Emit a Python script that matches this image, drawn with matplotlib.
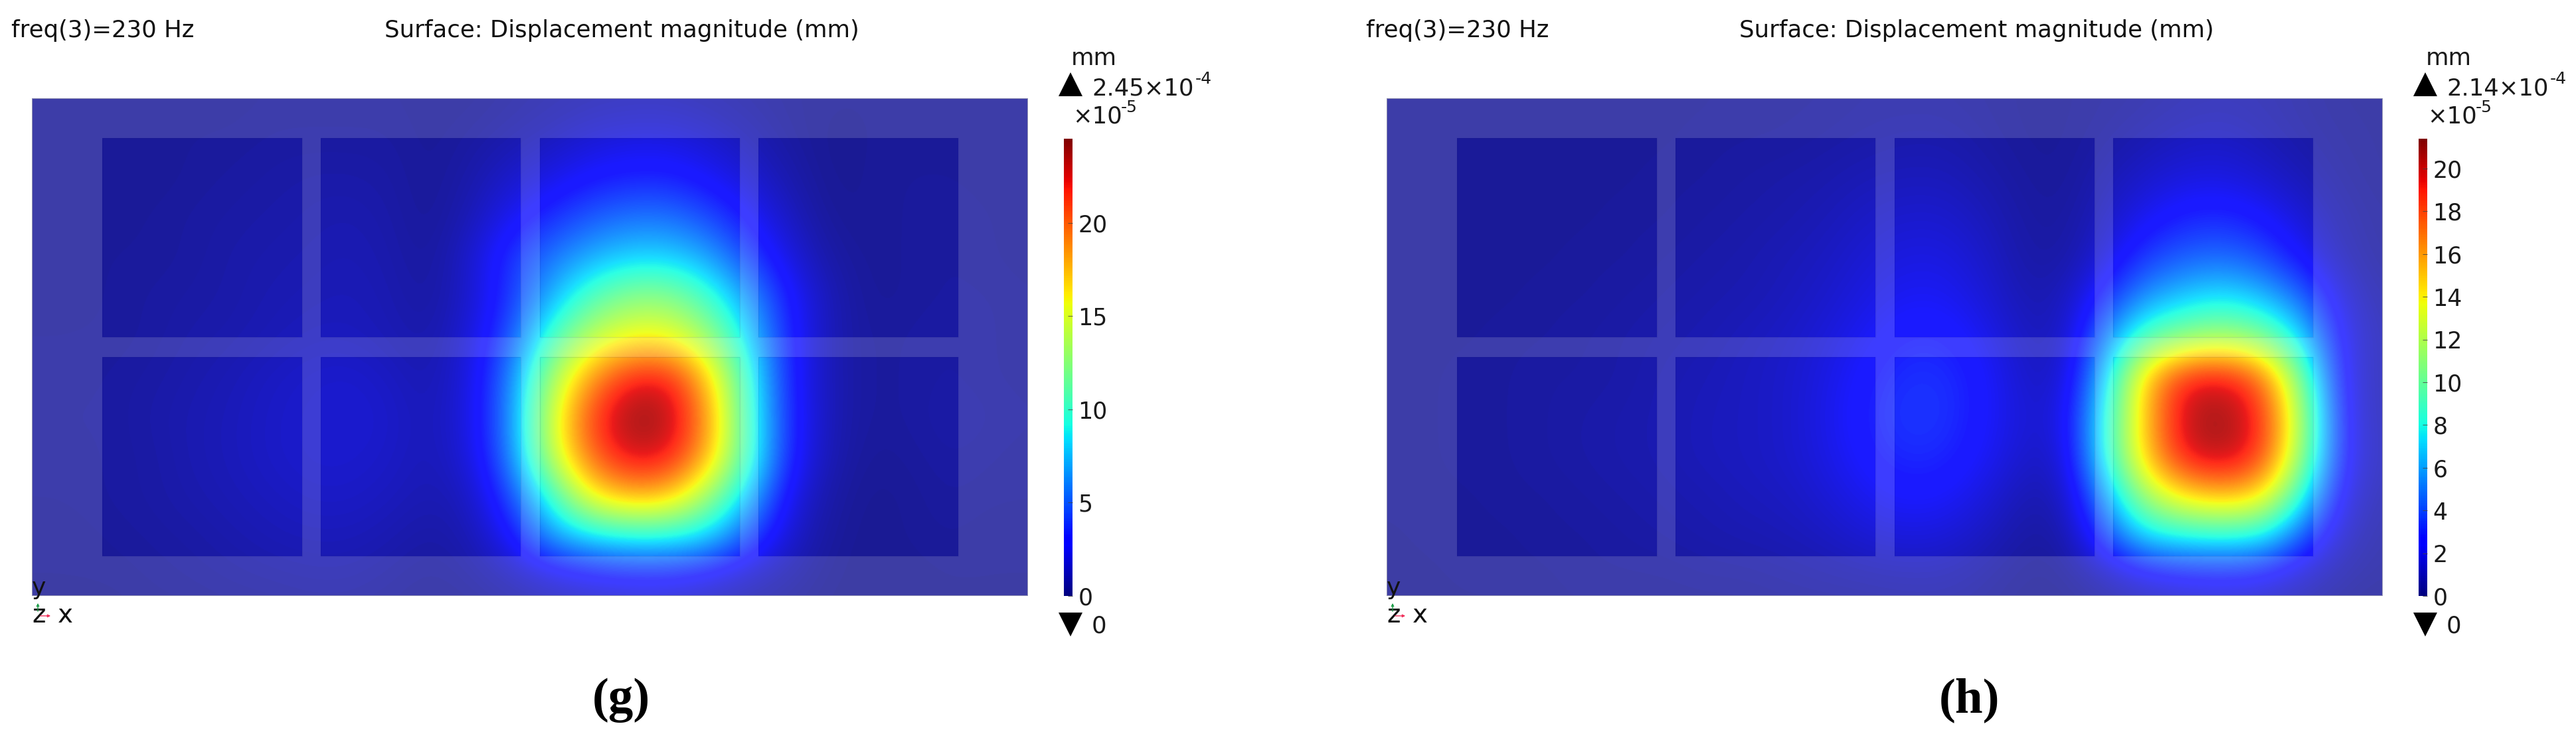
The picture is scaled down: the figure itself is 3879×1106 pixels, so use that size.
import numpy as np
import matplotlib
matplotlib.use("Agg")
import matplotlib.pyplot as plt
from matplotlib.cm import ScalarMappable
from matplotlib.colors import Normalize
from matplotlib.path import Path
from matplotlib.patches import PathPatch, Rectangle

W, H = 3880, 1106

# displacement magnitude in 1e-5 mm
# columns are x = 48, 108 ... 1548 px, rows are y = 148, 208 ... 928 px
field_g = [
    [.3, .3, .3, .3, .3, .3, .4, .4, .4, .4, .3, .3, .5, .7, .9, 1.0, 1.0, .8, .6, .4, .3, .3, .3, .3, .3, .3],
    [.3, .3, .3, .3, .4, .4, .5, .5, .5, .5, .3, .5, .8, 1.2, 1.7, 2.0, 2.0, 1.6, 1.0, .5, .2, .3, .3, .3, .3, .3],
    [.3, .3, .3, .3, .4, .5, .6, .7, .7, .6, .3, .7, 1.5, 2.1, 2.9, 3.3, 3.3, 2.6, 1.7, .8, .2, .3, .4, .4, .3, .3],
    [.3, .3, .3, .4, .5, .6, .7, .8, .9, .7, .3, 1.0, 2.4, 3.6, 4.8, 5.5, 5.5, 4.4, 2.8, 1.3, .3, .3, .4, .5, .4, .3],
    [.3, .3, .4, .4, .5, .7, .8, .9, 1.0, .8, .4, 1.5, 3.8, 5.5, 7.0, 8.0, 8.0, 6.8, 4.2, 2.0, .6, .3, .4, .5, .4, .3],
    [.3, .3, .4, .5, .6, .7, .9, 1.0, 1.1, .9, .5, 1.5, 3.8, 7.0, 10.5, 12.5, 12.5, 10, 6.5, 3, 1.0, .3, .4, .5, .5, .4],
    [.4, .4, .4, .5, .7, .8, 1.0, 1.2, 1.2, 1.0, .7, 1.8, 4.5, 10, 14, 15.7, 15.7, 13, 8, 3.2, 1.0, .4, .5, .6, .5, .4],
    [.4, .4, .5, .6, .8, 1.0, 1.3, 1.5, 1.6, 1.3, .9, 1.9, 5.6, 13, 18.5, 22, 22.3, 17, 9.5, 3.2, 1.0, .4, .5, .6, .5, .4],
    [.5, .5, .5, .7, .9, 1.1, 1.4, 1.6, 1.7, 1.5, 1.0, 2.0, 5.8, 14.5, 21, 24.3, 23.8, 18.5, 9.8, 3.4, 1.0, .4, .5, .7, .6, .5],
    [.4, .4, .5, .6, .9, 1.1, 1.4, 1.6, 1.6, 1.4, 1.0, 1.8, 5.6, 14, 20, 23, 22.5, 17.8, 10, 3.3, .9, .3, .4, .6, .5, .4],
    [.4, .4, .5, .6, .8, 1.0, 1.2, 1.4, 1.4, 1.2, .9, 1.2, 4.2, 9.5, 16, 18, 17.5, 13, 7.5, 2.3, .6, .2, .3, .5, .4, .4],
    [.3, .3, .4, .5, .6, .8, 1.0, 1.1, 1.1, .9, .6, .9, 2.6, 6.5, 8.3, 9, 9, 8, 4.5, 1.6, .4, .2, .3, .4, .3, .3],
    [.3, .3, .3, .4, .5, .6, .7, .8, .8, .6, .4, .6, 1.1, 1.8, 2.4, 2.8, 2.8, 2.2, 1.4, .8, .3, .2, .2, .3, .3, .3],
    [.2, .2, .2, .3, .3, .4, .4, .5, .5, .4, .3, .3, .5, .8, 1.0, 1.1, 1.1, .9, .6, .4, .2, .2, .2, .2, .2, .2],
]
field_h = [
    [.3, .3, .3, .3, .3, .3, .3, .3, .3, .4, .4, .4, .5, .5, .5, .4, .3, .3, .4, .5, .7, .8, .7, .5, .3, .3],
    [.3, .3, .3, .3, .3, .3, .3, .3, .4, .4, .4, .5, .6, .7, .7, .5, .3, .3, .5, .8, 1.1, 1.2, .9, .6, .4, .3],
    [.3, .3, .3, .3, .3, .3, .3, .4, .4, .5, .6, .7, .9, 1.0, 1.0, .7, .4, .3, .8, 1.3, 1.7, 1.8, 1.4, .9, .5, .3],
    [.3, .3, .3, .3, .3, .3, .4, .4, .5, .6, .7, .9, 1.2, 1.4, 1.4, 1.0, .5, .4, 1.1, 2.1, 2.9, 3.1, 2.5, 1.5, .7, .4],
    [.3, .3, .3, .3, .3, .4, .4, .5, .6, .7, .9, 1.1, 1.5, 1.8, 1.8, 1.3, .6, .5, 1.6, 3.4, 4.3, 4.6, 3.9, 2.3, .9, .4],
    [.3, .3, .3, .3, .4, .4, .5, .6, .7, .8, 1.0, 1.3, 1.8, 2.2, 2.2, 1.6, .8, .9, 3.0, 5.5, 6.8, 7.5, 6.5, 4.5, 1.6, .6],
    [.3, .3, .3, .4, .4, .5, .6, .7, .8, 1.0, 1.2, 1.6, 2.2, 2.8, 2.8, 2.1, 1.1, 1.0, 5.0, 9.2, 10.7, 11.5, 10.5, 7, 2.0, .8],
    [.3, .3, .4, .4, .5, .5, .6, .8, .9, 1.1, 1.3, 1.8, 2.6, 3.2, 3.2, 2.5, 1.3, 1.2, 6.5, 15, 19.3, 19.8, 17.5, 10, 2, .8],
    [.3, .3, .4, .4, .5, .6, .7, .8, 1.0, 1.1, 1.3, 1.9, 2.8, 3.4, 3.3, 2.5, 1.5, 1.6, 7.7, 15, 20.3, 21.2, 19, 11.5, 2.2, .8],
    [.3, .3, .4, .4, .5, .6, .7, .8, 1.0, 1.1, 1.3, 1.8, 2.6, 3.1, 3.0, 2.3, 1.3, 1.3, 7.7, 15, 19.7, 20.7, 18.6, 11, 2.3, .9],
    [.3, .3, .3, .4, .4, .5, .6, .7, .8, 1.0, 1.1, 1.5, 2.1, 2.5, 2.4, 1.7, .8, .9, 5.5, 11.5, 14.5, 15.5, 14.5, 8, 1.8, .7],
    [.2, .3, .3, .3, .4, .4, .5, .6, .7, .8, .9, 1.1, 1.5, 1.7, 1.6, 1.1, .5, .5, 3.5, 7.2, 7.8, 8, 7.6, 4, 1.2, .5],
    [.2, .2, .3, .3, .3, .4, .4, .4, .5, .5, .6, .7, .8, .9, .9, .6, .3, .3, .9, 1.8, 2.3, 2.5, 2.2, 1.3, .6, .4],
    [.2, .2, .2, .2, .3, .3, .3, .3, .3, .3, .4, .4, .4, .5, .5, .4, .2, .2, .4, .7, .9, 1.0, .9, .6, .3, .2],
]

fields = [field_g, field_h]
vmaxes = [24.5, 21.4]
max_labels = ["2.45×10", "2.14×10"]
cbar_ticks = [[0, 5, 10, 15, 20], [0, 2, 4, 6, 8, 10, 12, 14, 16, 18, 20]]
letters = ["(g)", "(h)"]
letter_x = [935, 2966]
offsets = [0, 2040]

window_cols = [(154, 455), (483, 784), (813, 1114), (1142, 1443)]
window_rows = [(208, 508), (538, 838)]

plt.rcParams['font.family'] = 'DejaVu Sans'
fig = plt.figure(figsize=(W / 100, H / 100), dpi=100, facecolor='white')


def px_axes(x0, y0, x1, y1):
    return fig.add_axes([x0 / W, 1 - y1 / H, (x1 - x0) / W, (y1 - y0) / H])


over = fig.add_axes([0, 0, 1, 1], zorder=5)
over.set_xlim(0, W)
over.set_ylim(H, 0)
over.axis('off')

for i in range(2):
    off = offsets[i]
    norm = Normalize(0, vmaxes[i])

    # the plate, x and y in px of the left panel
    ax = px_axes(48 + off, 148, 1548 + off, 898)
    ax.imshow(np.array(fields[i]), cmap='jet', norm=norm, alpha=0.9, interpolation='bicubic',
              extent=(18, 1578, 958, 118), aspect='auto')
    ax.set_xlim(48, 1548)
    ax.set_ylim(898, 148)
    ax.axis('off')

    # frame is paler than the window panes
    verts = [(48, 148), (48, 898), (1548, 898), (1548, 148), (48, 148)]
    codes = [Path.MOVETO, Path.LINETO, Path.LINETO, Path.LINETO, Path.CLOSEPOLY]
    for xa, xb in window_cols:
        for ya, yb in window_rows:
            verts += [(xa, ya), (xb, ya), (xb, yb), (xa, yb), (xa, ya)]
            codes += [Path.MOVETO, Path.LINETO, Path.LINETO, Path.LINETO, Path.CLOSEPOLY]
    ax.add_patch(PathPatch(Path(verts, codes), facecolor='white', edgecolor='none', alpha=0.155))
    ax.add_patch(PathPatch(Path(verts, codes), facecolor='none', edgecolor='#10107a', lw=1.0, alpha=0.10))
    ax.add_patch(Rectangle((48, 148), 1500, 750, facecolor='none', edgecolor='#8f8fb0', lw=1.5))

    # colorbar
    cax = px_axes(1602 + off, 209, 1615 + off, 898)
    cb = fig.colorbar(ScalarMappable(norm=norm, cmap='jet'), cax=cax)
    cb.outline.set_visible(False)
    cb.set_ticks(cbar_ticks[i])
    cax.tick_params(direction='in', length=5, width=0.6, color='#444444', labelsize=25, pad=6, labelcolor='#1a1a1a')

    # max/min markers
    over.plot(1612 + off, 127, marker='^', ms=26, color='black', mew=0)
    over.plot(1612 + off, 941, marker='v', ms=26, color='black', mew=0)
    over.text(1613 + off, 98, "mm", fontsize=25.5, color='#1a1a1a', va='baseline')
    over.text(1644 + off, 143, max_labels[i], fontsize=25.5, color='#1a1a1a', va='baseline')
    over.text(1800 + off, 126, "-4", fontsize=18, color='#1a1a1a', va='baseline')
    over.text(1615 + off, 185, "×10", fontsize=25.5, color='#1a1a1a', va='baseline')
    over.text(1688 + off, 169, "-5", fontsize=18, color='#1a1a1a', va='baseline')
    over.text(1644 + off, 954, "0", fontsize=25.5, color='#1a1a1a', va='baseline')

    # header
    over.text(17 + off, 56, "freq(3)=230 Hz", fontsize=25.6, color='#111111', va='baseline')
    over.text(579 + off, 56, "Surface: Displacement magnitude (mm)", fontsize=25.6, color='#111111', va='baseline')

    # axis triad
    over.text(48 + off, 896, "y", fontsize=26, color='#111111', va='baseline')
    over.text(48 + off, 938, "z", fontsize=28, color='#111111', va='baseline')
    over.text(87 + off, 938, "x", fontsize=28, color='#111111', va='baseline')
    over.annotate("", xy=(57 + off, 906), xytext=(57 + off, 924),
                  arrowprops=dict(arrowstyle='-|>', color='#1f9e4a', lw=1, mutation_scale=6))
    over.annotate("", xy=(79 + off, 928), xytext=(58 + off, 928),
                  arrowprops=dict(arrowstyle='-|>', color='#f0305a', lw=1, mutation_scale=6))

    over.text(letter_x[i], 1073, letters[i], fontsize=54, family='Liberation Serif', fontweight='bold',
              ha='center', va='baseline', color='black')

fig.savefig("out.png", dpi=100)
